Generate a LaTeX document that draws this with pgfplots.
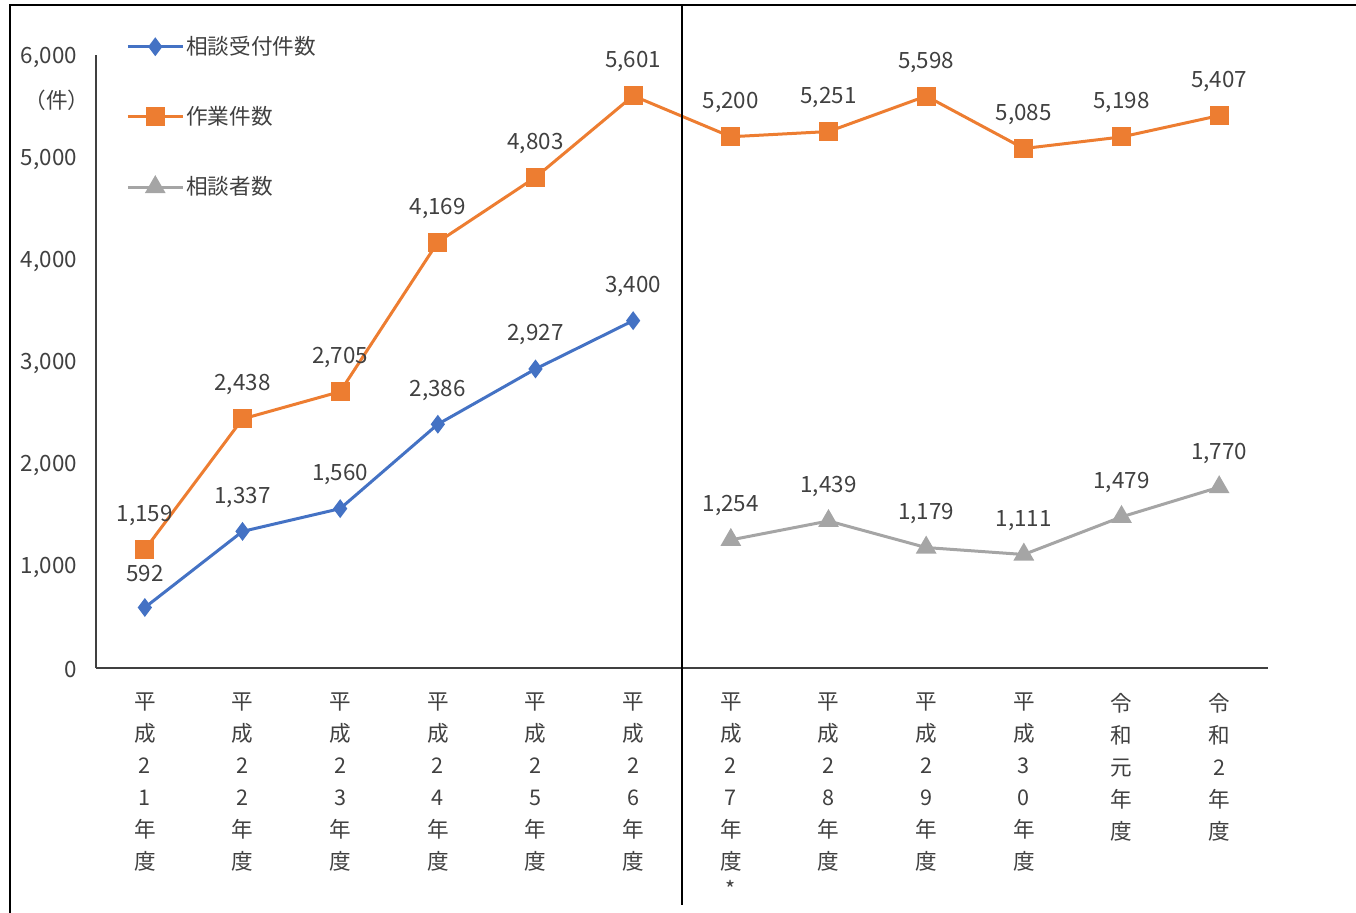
\documentclass[border=0pt]{standalone}
\usepackage{pgfplots}
\pgfplotsset{compat=1.18}
\usepackage{fontspec}
\setmainfont{Noto Sans CJK JP}
\definecolor{cblue}{HTML}{4472C4}
\definecolor{corange}{HTML}{ED7D31}
\definecolor{cgray}{HTML}{A5A5A5}
\definecolor{ctext}{HTML}{404040}
\begin{document}
\begin{tikzpicture}
\begin{axis}[
  name=ax,
  scale only axis,
  width=586pt, height=306.5pt,
  xmin=-0.5, xmax=11.5, ymin=0, ymax=6000,
  axis lines=left,
  axis line style={-, black!75, line width=0.8pt},
  major tick length=0pt,
  clip=false,
  /pgf/number format/1000 sep={,},
  /pgf/number format/assume math mode=true,
  ytick={0,1000,2000,3000,4000,5000,6000},
  yticklabel style={anchor=east, xshift=-6pt, yshift=-1pt, font=\fontsize{11.2}{13}\selectfont, text=ctext},
  scaled y ticks=false,
  xtick={0,1,2,3,4,5,6,7,8,9,10,11},
  xticklabels={
    {平\\成\\2\\1\\年\\度},
    {平\\成\\2\\2\\年\\度},
    {平\\成\\2\\3\\年\\度},
    {平\\成\\2\\4\\年\\度},
    {平\\成\\2\\5\\年\\度},
    {平\\成\\2\\6\\年\\度},
    {平\\成\\2\\7\\年\\度\\[-2pt]{\fontsize{10.8}{14}\selectfont *}},
    {平\\成\\2\\8\\年\\度},
    {平\\成\\2\\9\\年\\度},
    {平\\成\\3\\0\\年\\度},
    {令\\和\\元\\年\\度},
    {令\\和\\2\\年\\度}},
  xticklabel style={anchor=north, yshift=-9pt, align=center, font=\fontsize{10.8}{16}\selectfont, text=ctext},
  nodes near coords,
  every node near coord/.append style={anchor=center, yshift=17pt, font=\fontsize{11.2}{13}\selectfont, text=ctext},
  legend style={at={(0.0255,1.038)}, anchor=north west, draw=none, fill=none, inner sep=0pt,
    row sep=20.5pt, font=\fontsize{10.8}{13}\selectfont, text=ctext,
    /tikz/every odd column/.append style={column sep=0pt},
    nodes={inner xsep=1pt}},
  legend cell align=left,
  legend image code/.code={\draw[mark repeat=2,mark phase=2] plot coordinates {(0pt,0pt) (13.75pt,0pt) (27.5pt,0pt)};},
]
\addplot[color=cblue, line width=1.5pt, mark=diamond*, mark size=3.5pt, mark options={solid, fill=cblue}]
  coordinates {(0,592) (1,1337) (2,1560) (3,2386) (4,2927) (5,3400)};
\addlegendentry{相談受付件数}
\addplot[color=corange, line width=1.5pt, mark=square*, mark size=4pt, mark options={solid, fill=corange}]
  coordinates {(0,1159) (1,2438) (2,2705) (3,4169) (4,4803) (5,5601) (6,5200) (7,5251) (8,5598) (9,5085) (10,5198) (11,5407)};
\addlegendentry{作業件数}
\addplot[color=cgray, line width=1.5pt, mark=triangle*, mark size=4.5pt, mark options={solid, fill=cgray}]
  coordinates {(6,1254) (7,1439) (8,1179) (9,1111) (10,1479) (11,1770)};
\addlegendentry{相談者数}
\draw[black, line width=0.8pt] (axis cs:5.5,6490) -- (axis cs:5.5,-2320);
\node[font=\fontsize{10.8}{13}\selectfont, text=ctext] at (axis description cs:-0.0333,0.9266) {（件）};
\end{axis}
\draw[black, line width=1pt] ([xshift=-43pt,yshift=-130pt]ax.south west) -- ([xshift=-43pt,yshift=331.5pt]ax.south west) -- ([xshift=640pt,yshift=331.5pt]ax.south west);
\pgfresetboundingbox
\useasboundingbox ([xshift=-48pt,yshift=334pt]ax.south west) rectangle ([xshift=630pt,yshift=-122pt]ax.south west);
\end{tikzpicture}
\end{document}
